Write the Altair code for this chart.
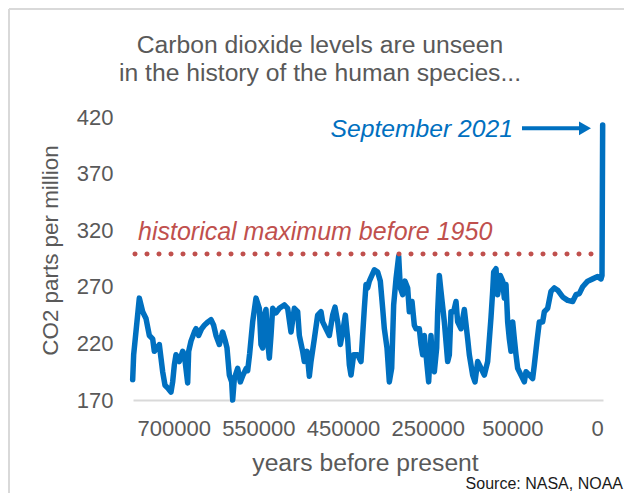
import altair as alt
import pandas as pd

# ---- data (position along the category axis, CO2 ppm) ----
pos = [69, 72, 89, 99, 109, 119, 129, 134, 149, 154, 159, 166, 176, 184, 189, 194, 199, 204, 209, 219,
       224, 234, 237, 244, 254, 259, 267, 276, 284, 295, 304, 312, 319, 329, 339, 347, 352, 359, 366, 369,
       374, 384, 392, 400, 410, 414, 420, 429, 439, 449, 454, 459, 464, 469, 474, 479, 484, 489, 499, 509,
       524, 534, 544, 554, 564, 569, 579, 584, 592, 599, 604, 614, 624, 634, 639, 649, 659, 669, 676, 684,
       692, 699, 707, 714, 719, 724, 732, 744, 754, 764, 769, 774, 779, 794, 804, 812, 819, 824, 832, 839,
       846, 852, 859, 867, 872, 879, 886, 894, 899, 907, 914, 919, 929, 934, 939, 944, 952, 957, 964, 969,
       974, 981, 984, 989, 994, 1004, 1014, 1019, 1024, 1032, 1039, 1044, 1054, 1064, 1074, 1079, 1089, 1096, 1104, 1114,
       1124, 1134, 1144, 1149, 1152, 1159, 1164, 1172, 1179, 1184, 1189, 1194, 1199, 1204, 1209, 1214, 1219, 1224, 1234, 1244,
       1249, 1259, 1269, 1274, 1282, 1289, 1299, 1304, 1314, 1324, 1334, 1344, 1359, 1374, 1389, 1399, 1409, 1419, 1434, 1449,
       1464, 1474, 1477, 1479]
co2 = [188, 210, 260, 248, 242, 227, 224, 213, 219, 207, 195, 183, 180, 177, 186, 201, 210, 207, 204, 213,
       210, 185, 213, 222, 230, 233, 227, 233, 236, 239, 241, 236, 227, 219, 230, 222, 216, 192, 186, 170,
       189, 198, 186, 192, 198, 196, 211, 239, 260, 251, 219, 216, 245, 250, 222, 207, 227, 251, 247, 251,
       254, 251, 230, 251, 248, 227, 213, 204, 213, 191, 204, 224, 245, 248, 239, 233, 227, 245, 252, 239,
       219, 230, 245, 224, 201, 192, 210, 210, 204, 251, 272, 269, 275, 285, 283, 275, 251, 233, 216, 186,
       198, 254, 277, 297, 269, 263, 275, 269, 248, 257, 236, 233, 233, 219, 210, 227, 201, 186, 227, 198,
       195, 216, 248, 280, 266, 239, 204, 210, 248, 248, 257, 239, 233, 250, 224, 210, 192, 186, 204, 198,
       192, 204, 243, 266, 283, 286, 263, 280, 275, 260, 272, 239, 224, 213, 239, 224, 210, 198, 192, 186,
       195, 192, 189, 201, 222, 239, 239, 248, 251, 266, 269, 267, 261, 258, 257, 263, 264, 270, 275, 277,
       279, 277, 280, 413]

xtick_pos = [192, 446, 700, 954, 1208, 1462]
xtick_labels = ["700000", "550000", "450000", "250000", "50000", "0"]
ytick_vals = [170, 220, 270, 320, 370, 420]

hist_max = 299
hist_label = "historical maximum before 1950"
latest_label = "September 2021"
title_lines = ["Carbon dioxide levels are unseen", "in the history of the human species..."]
source_text = "Source: NASA, NOAA"

# ---- styling ----
FONT = "Liberation Sans"
BLUE = "#0070C0"
RED = "#C0504D"
GREY = "#595959"
BIG = 24.7

xscale = alt.Scale(domain=[70, 1480], nice=False, zero=False)
yscale = alt.Scale(domain=[170, 420], nice=False, zero=False)

label_expr = ("[" + ",".join(f"'{l}'" for l in xtick_labels) + "][indexof(["
              + ",".join(str(p) for p in xtick_pos) + "], datum.value)]")

x_axis = alt.Axis(values=xtick_pos, labelExpr=label_expr, title="years before present",
                  grid=False, ticks=False, tickSize=0, domainColor="#D9D9D9", domainWidth=2,
                  labelFont=FONT, labelFontSize=22, labelColor=GREY, labelPadding=35,
                  labelBaseline="alphabetic", labelAlign="center", labelOverlap=False,
                  labelFlush=False, titleFont=FONT, titleFontSize=BIG, titleColor=GREY,
                  titleFontWeight="normal", titleY=70, titleX=232, titleBaseline="alphabetic")
y_axis = alt.Axis(values=ytick_vals, title="CO2 parts per million", grid=False, ticks=False,
                  tickSize=0, domain=False, labelFont=FONT, labelFontSize=22, labelColor=GREY,
                  labelPadding=20, titleFont=FONT, titleFontSize=22.4, titleColor=GREY,
                  titleFontWeight="normal", titleX=-83, titleY=133, titleBaseline="middle")


def X(field="pos"):
    return alt.X(f"{field}:Q", scale=xscale, axis=x_axis)


def Y(field="co2"):
    return alt.Y(f"{field}:Q", scale=yscale, axis=y_axis)


df = pd.DataFrame({"pos": pos, "co2": co2})

line = alt.Chart(df).mark_line(color=BLUE, strokeWidth=5.5, strokeJoin="round", strokeCap="round").encode(
    x=X(), y=Y())

hist_df = pd.DataFrame({"pos": [76], "pos2": [1479], "co2": [hist_max]})
hist_rule = alt.Chart(hist_df).mark_rule(color=RED, strokeWidth=5, strokeDash=[0, 12], strokeCap="round").encode(
    x=X(), x2="pos2:Q", y=Y())

hist_txt = alt.Chart(pd.DataFrame({"pos": [85], "co2": [311], "t": [hist_label]})).mark_text(
    align="left", baseline="alphabetic", font=FONT, fontSize=BIG + 0.3, fontStyle="italic", color=RED).encode(
    x=X(), y=Y(), text="t:N")

sep_txt = alt.Chart(pd.DataFrame({"pos": [1210], "co2": [402], "t": [latest_label]})).mark_text(
    align="right", baseline="alphabetic", font=FONT, fontSize=BIG, fontStyle="italic", color=BLUE).encode(
    x=X(), y=Y(), text="t:N")

arrow_line = alt.Chart(pd.DataFrame({"pos": [1237], "pos2": [1415], "co2": [410]})).mark_rule(
    color=BLUE, strokeWidth=4).encode(x=X(), x2="pos2:Q", y=Y())

arrow_head = alt.Chart(pd.DataFrame({"pos": [1426], "co2": [410]})).mark_point(
    shape="triangle-right", filled=True, color=BLUE, size=190, opacity=1).encode(x=X(), y=Y())

title1 = alt.Chart(pd.DataFrame({"t": [title_lines[0]]})).mark_text(
    align="center", baseline="alphabetic", font=FONT, fontSize=BIG, color=GREY).encode(
    x=alt.value(187), y=alt.value(-64), text="t:N")
title2 = alt.Chart(pd.DataFrame({"t": [title_lines[1]]})).mark_text(
    align="center", baseline="alphabetic", font=FONT, fontSize=BIG, color=GREY).encode(
    x=alt.value(187), y=alt.value(-36), text="t:N")

source = alt.Chart(pd.DataFrame({"t": [source_text]})).mark_text(
    align="right", baseline="alphabetic", font=FONT, fontSize=16, color="#1a1a1a").encode(
    x=alt.value(490), y=alt.value(372), text="t:N")

frame_left = alt.Chart(pd.DataFrame({"a": [0]})).mark_rule(color="#D9D9D9", strokeWidth=2).encode(
    x=alt.value(-124), y=alt.value(-108), y2=alt.value(376))
frame_top = alt.Chart(pd.DataFrame({"a": [0]})).mark_rule(color="#D9D9D9", strokeWidth=2).encode(
    x=alt.value(-124), x2=alt.value(491), y=alt.value(-108))

chart = alt.layer(
    line, hist_rule, hist_txt, sep_txt, arrow_line, arrow_head,
    title1, title2, source, frame_left, frame_top
).properties(
    width=470, height=283,
    autosize=alt.AutoSizeParams(type="none"),
    padding={"left": 125, "top": 109, "right": 21, "bottom": 93},
    background="white",
).configure_view(stroke=None)

chart.save("out.html", embed_options={"renderer": "svg", "actions": False})
